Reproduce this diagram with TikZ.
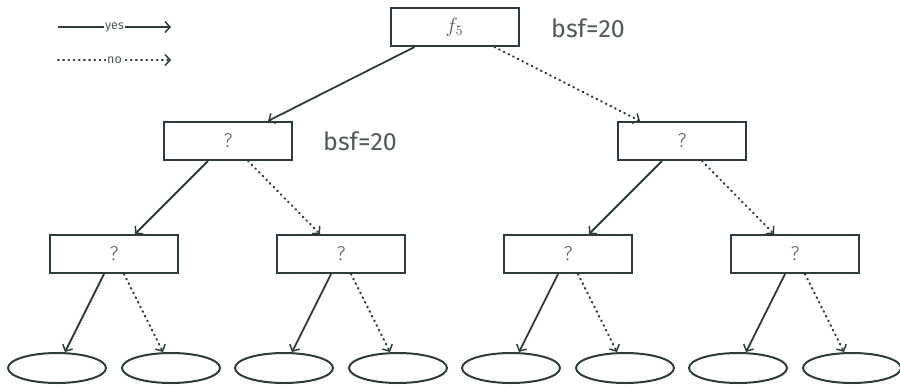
\documentclass[tikz,border=0pt]{standalone}
\usepackage{fontspec}
\setmainfont{Fira Sans}[UprightFont=* Light]
\newfontfamily\labelfont{Fira Sans}
\usetikzlibrary{arrows.meta,calc,shapes.geometric}
\definecolor{ink}{HTML}{2E3B3B}
\definecolor{txt}{HTML}{505A5A}
\tikzset{
  test/.style={draw=ink, line width=2pt, minimum width=128pt, minimum height=38pt, inner sep=0pt, text=txt, font=\fontsize{20}{22}\selectfont},
  leaf/.style={draw=ink, line width=2pt, ellipse, minimum width=98pt, minimum height=30pt, inner sep=0pt},
  edge/.style={draw=ink, line width=1.8pt, -{Straight Barb[length=5pt,width=11pt,line width=1.5pt]}},
  yesedge/.style={edge},
  noedge/.style={edge, dash pattern=on 0.8pt off 4.4pt, line cap=round, line width=2.1pt},
  bsf/.style={text=txt, font=\labelfont\fontsize{25}{27}\selectfont, anchor=west, inner sep=0pt},
  legtext/.style={text=txt, fill=white, inner xsep=1pt, inner ysep=0pt, font=\labelfont\fontsize{12.5}{13}\selectfont},
}
\begin{document}
\begin{tikzpicture}[x=1pt, y=-1pt]
\useasboundingbox (0,0) rectangle (900,384);

% legend
\coordinate (ys) at (58,27);
\coordinate (ye) at (171,27);
\draw[yesedge] (ys) -- node[legtext]{yes} (ye);
\coordinate (ns) at (58,60);
\coordinate (ne) at (171,60);
\draw[noedge] (ns) -- node[legtext]{no} (ne);

% tests
\node[test] (r) at (454.5,27) {$f_5$};
\node[test] (a) at (228,141) {?};
\node[test] (b) at (682,141) {?};
\node[test] (aa) at (114,254) {?};
\node[test] (ab) at (341,254) {?};
\node[test] (ba) at (568,254) {?};
\node[test] (bb) at (795,254) {?};

\node[bsf] (s1) at (551,28) {bsf=20};
\node[bsf] (s2) at (323,141) {bsf=20};

% leaves
\foreach \p/\x in {aa/114, ab/341, ba/568, bb/795}{
  \node[leaf] (\p l) at (\x-57,368) {};
  \node[leaf] (\p r) at (\x+57,368) {};
}

% edges
\draw[yesedge] ($(r.south)+(-40,0)$) -- ($(a.north)+(40,0)$);
\draw[noedge] ($(r.south)+(40,0)$) -- ($(b.north)+(-42,0)$);
\foreach \p/\l/\r in {a/aa/ab, b/ba/bb}{
  \draw[yesedge] ($(\p.south)+(-20,0)$) -- ($(\l.north)+(21,0)$);
  \draw[noedge] ($(\p.south)+(20,0)$) -- ($(\r.north)+(-21,0)$);
}
\foreach \c in {aa, ab, ba, bb}{
  \draw[yesedge] ($(\c.south)+(-10,0)$) -- ($(\c l.north)+(8,0)$);
  \draw[noedge] ($(\c.south)+(10,0)$) -- ($(\c r.north)+(-8,0)$);
}
\end{tikzpicture}
\end{document}
